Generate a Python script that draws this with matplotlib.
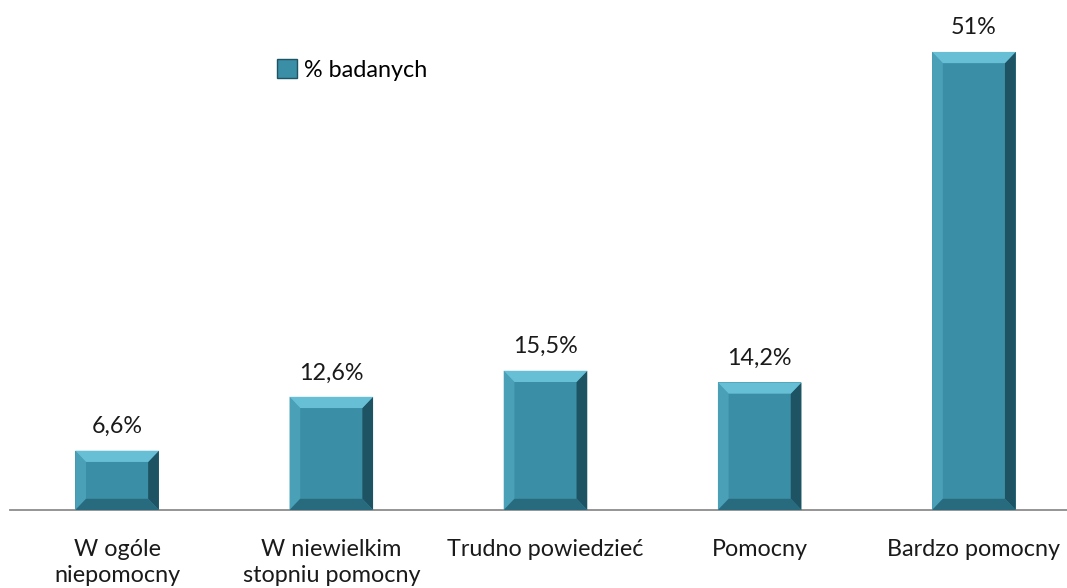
import numpy as np
import matplotlib.pyplot as plt
from matplotlib.patches import Polygon

categories = ["W ogóle\nniepomocny", "W niewielkim\nstopniu pomocny", "Trudno powiedzieć",
              "Pomocny", "Bardzo pomocny"]
values = [6.6, 12.6, 15.5, 14.2, 51]
value_labels = ["6,6%", "12,6%", "15,5%", "14,2%", "51%"]
series_name = "% badanych"

plt.rcParams['font.family'] = ['Lato', 'DejaVu Sans']
FS = 16.8

fig = plt.figure(figsize=(10.67, 5.88), dpi=100)
# axis spans a bit past the right edge like the original
ax = fig.add_axes([10 / 1067, 78 / 588, 1071 / 1067, 503 / 588])

x = np.arange(len(values))
bw = 0.39
main = "#3a8ea6"
bars = ax.bar(x, values, width=bw, color=main, edgecolor="none", label=series_name, zorder=2)

# bevel: four trapezoids around each bar
bx = 0.05
by = 1.25
for xi, v in zip(x, values):
    l, r = xi - bw / 2, xi + bw / 2
    top = [(l, v), (r, v), (r - bx, v - by), (l + bx, v - by)]
    bot = [(l, 0), (r, 0), (r - bx, by), (l + bx, by)]
    left = [(l, 0), (l, v), (l + bx, v - by), (l + bx, by)]
    right = [(r, 0), (r, v), (r - bx, v - by), (r - bx, by)]
    for pts, c in [(left, "#4aa0b7"), (right, "#1d5363"), (bot, "#296b7e"), (top, "#66bfd5")]:
        ax.add_patch(Polygon(pts, closed=True, facecolor=c, edgecolor="none", zorder=3))
    ax.text(xi, v + 1.5, value_labels[int(xi)], ha="center", va="bottom", fontsize=FS, color="#1a1a1a")

ax.set_xlim(-0.5, 4.5)
ax.set_ylim(0, 56)
ax.set_xticks(x)
ax.set_xticklabels(categories, fontsize=FS, color="#1a1a1a", linespacing=1.3)
ax.tick_params(axis="x", length=0, pad=21)
ax.set_yticks([])
for s in ["top", "right", "left"]:
    ax.spines[s].set_visible(False)
ax.spines["bottom"].set_color("#8c8c8c")
ax.spines["bottom"].set_linewidth(1.3)

leg = ax.legend(loc="upper left", bbox_to_anchor=(0.240, 0.935), bbox_transform=fig.transFigure,
                frameon=False, fontsize=FS, handlelength=0.85, handleheight=0.85, handletextpad=0.3)
leg.legend_handles[0].set_edgecolor("#1d5363")
leg.legend_handles[0].set_linewidth(1.0)

fig.savefig("out.png", dpi=100)
